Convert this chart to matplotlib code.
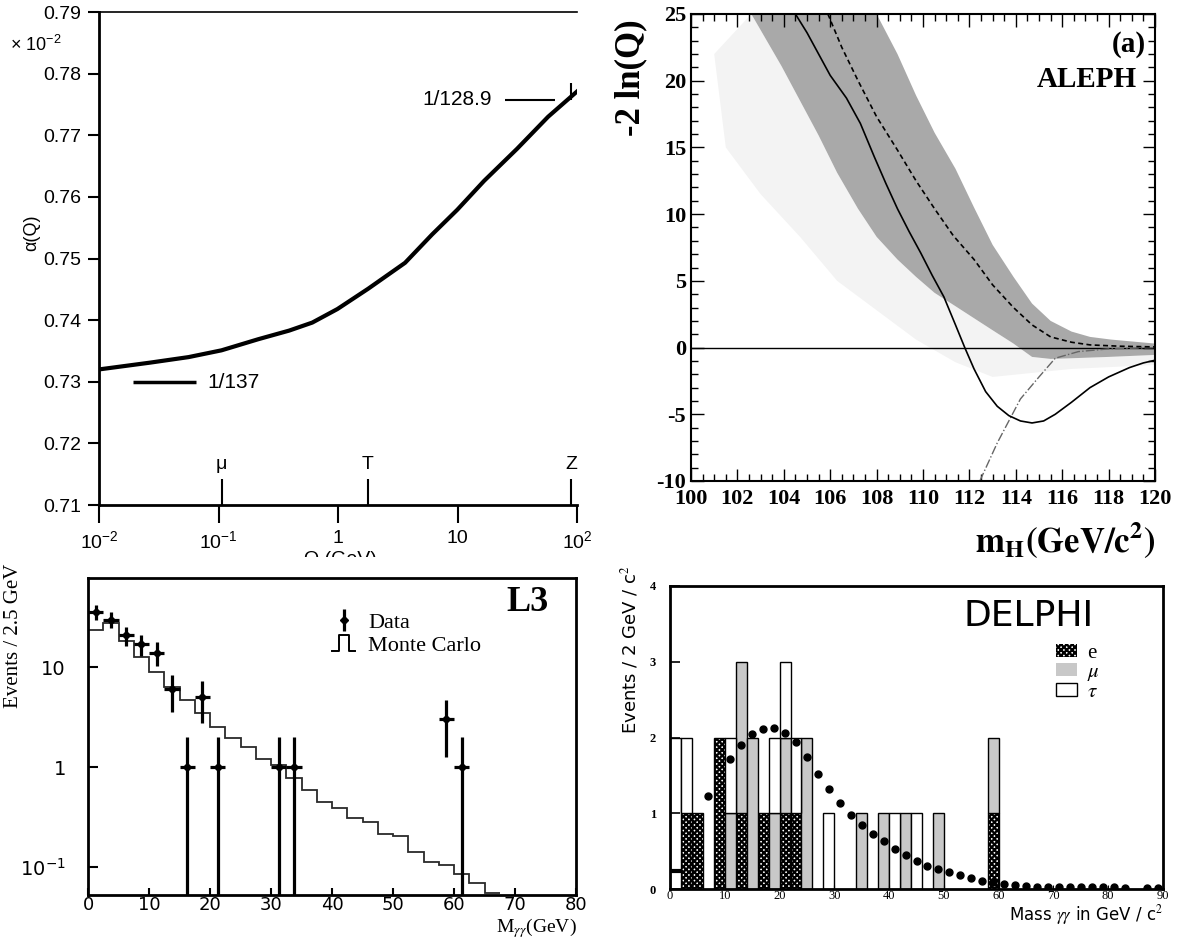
import numpy as np
import matplotlib
matplotlib.use("Agg")
import matplotlib.pyplot as plt
from matplotlib.lines import Line2D
from matplotlib.patches import Patch, Rectangle
from matplotlib.legend_handler import HandlerBase, HandlerErrorbar
from matplotlib.ticker import MultipleLocator, NullLocator

plt.rcParams['mathtext.fontset'] = 'stix'
plt.rcParams['axes.unicode_minus'] = False
plt.rcParams['hatch.linewidth'] = 1.6

NARROW = ['Liberation Sans', 'DejaVu Sans']
SERIF = ['Liberation Serif', 'DejaVu Serif']

# --- panneau 1 : alpha(Q) ---
q_vals = [0.01, 0.0267, 0.0562, 0.106, 0.215, 0.39, 0.609, 0.989, 1.79, 3.64, 6.13, 9.95, 16.7, 31.5, 57.3, 100]
alpha_vals = [0.7320, 0.7331, 0.7340, 0.7351, 0.7369, 0.7383, 0.7396, 0.7418, 0.7451, 0.7493,
              0.7539, 0.7579, 0.7626, 0.7678, 0.7730, 0.7771]
alpha_ticks = [0.71, 0.72, 0.73, 0.74, 0.75, 0.76, 0.77, 0.78, 0.79]
q_ticks = [0.01, 0.1, 1, 10, 100]
q_labels = [r'$\mathregular{10^{-2}}$', r'$\mathregular{10^{-1}}$', '1', '10', r'$\mathregular{10^{2}}$']
particle_q = [0.106, 1.78, 89.6]
particle_names = ['μ', 'T', 'Z']

# --- panneau 2 : ALEPH -2ln(Q) ---
obs_m = [104.5, 105.0, 105.5, 106.0, 106.7, 107.3, 107.9, 108.4, 108.9, 109.4, 109.9, 110.4, 110.9,
         111.4, 111.8, 112.2, 112.7, 113.2, 113.7, 114.2, 114.7, 115.2, 115.7, 116.4, 117.2, 118.0,
         118.9, 119.5, 120.0]
obs_q = [25, 23.6, 22.0, 20.4, 18.7, 16.8, 14.3, 12.3, 10.4, 8.7, 7.1, 5.4, 3.8,
         1.7, 0.0, -1.6, -3.3, -4.4, -5.1, -5.5, -5.65, -5.5, -5.0, -4.1, -3.0, -2.2,
         -1.5, -1.15, -0.95]
sig_m = [105.9, 106.5, 107.2, 108.0, 108.9, 109.7, 110.5, 111.3, 112.2, 113.0, 113.9, 114.7,
         115.5, 116.4, 117.2, 118.5, 120.0]
sig_q = [25, 22.5, 20.0, 17.3, 14.8, 12.5, 10.4, 8.4, 6.6, 4.7, 3.0, 1.7, 0.8, 0.4, 0.2, 0.1, 0.05]
bkg_m = [112.45, 113.2, 114.2, 115.0, 115.7, 116.7, 118.0, 120.0]
bkg_q = [-10, -7.15, -3.85, -2.2, -0.8, -0.3, -0.1, 0.0]
band_hi_m = [108.0, 108.9, 109.7, 110.5, 111.4, 112.2, 113.0, 113.9, 114.7, 115.5, 116.4, 117.2, 118.1, 120.0]
band_hi_q = [25, 22.0, 18.9, 16.1, 13.4, 10.5, 7.7, 5.3, 3.3, 2.0, 1.2, 0.8, 0.6, 0.3]
band_lo_m = [102.6, 103.9, 104.7, 105.5, 106.3, 107.2, 108.0, 108.9, 109.7, 110.5, 111.4, 112.2,
             113.0, 113.9, 114.7, 115.5, 116.4, 118.0, 120.0]
band_lo_q = [25, 21.1, 18.5, 15.9, 13.1, 10.4, 8.3, 6.6, 5.3, 4.1, 3.1, 2.2,
             1.3, 0.3, -0.7, -0.85, -0.8, -0.7, -0.55]
band2_lo_m = [101.0, 101.5, 103.0, 104.7, 106.3, 108.0, 109.7, 111.4, 113.0, 114.7, 116.4, 120.0]
band2_lo_q = [22.0, 15.0, 11.5, 8.3, 5.0, 2.8, 0.6, -1.1, -2.2, -1.9, -1.6, -1.3]

# --- panneau 3 : L3 ---
mc_edges = np.arange(0, 70, 2.5)
mc_vals = [23.7, 27.6, 18.5, 12.8, 9.05, 6.3, 4.7, 3.45, 2.54, 1.97, 1.57, 1.19, 1.05, 0.77,
           0.59, 0.45, 0.39, 0.305, 0.283, 0.213, 0.203, 0.14, 0.112, 0.104, 0.084, 0.068, 0.055]
l3_x = [1.25, 3.75, 6.25, 8.75, 11.25, 13.75, 16.25, 18.75, 21.25, 31.25, 33.75, 58.75, 61.25]
l3_n = [36, 30, 21, 17, 14, 6, 1, 5, 1, 1, 1, 3, 1]
l3_bin = 2.5

# --- panneau 4 : DELPHI ---
e_bins = [2, 4, 8, 12, 16, 20, 22, 58]
e_n = [1, 1, 2, 1, 1, 1, 1, 1]
mu_bins = [10, 12, 14, 18, 20, 24, 34, 38, 42, 48, 58]
mu_n = [1, 2, 2, 1, 1, 2, 1, 1, 1, 1, 1]
tau_bins = [0, 2, 10, 18, 20, 22, 28, 40, 44]
tau_n = [2, 1, 1, 1, 1, 1, 1, 1, 1]
dots_x = [7, 11, 13, 15, 17, 19, 21, 23, 25, 27, 29, 31, 33, 35, 37, 39, 41, 43, 45, 47, 49,
          51, 53, 55, 57, 59, 61, 63, 65, 67, 69, 71, 73, 75, 77, 79, 81, 83, 87, 89]
dots_y = [1.23, 1.71, 1.90, 2.05, 2.11, 2.13, 2.06, 1.94, 1.74, 1.52, 1.32, 1.14, 0.98, 0.84,
          0.72, 0.63, 0.53, 0.45, 0.37, 0.31, 0.26, 0.22, 0.18, 0.14, 0.11, 0.09, 0.07, 0.05,
          0.04, 0.03, 0.03, 0.025, 0.02, 0.025, 0.02, 0.02, 0.02, 0.015, 0.01, 0.01]
first_bin_mc = 0.24
delphi_bin = 2

W, H = 1181, 938


def box(x0, y0, x1, y1):
    return [x0 / W, 1 - y1 / H, (x1 - x0) / W, (y1 - y0) / H]


class StepHandler(HandlerBase):
    def create_artists(self, legend, orig_handle, xdescent, ydescent, width, height, fontsize, trans):
        x0, y0 = -xdescent, -ydescent
        h = 1.0 * height
        xs = [x0, x0 + 0.3 * width, x0 + 0.3 * width, x0 + 0.75 * width, x0 + 0.75 * width, x0 + width]
        ys = [y0, y0, y0 + h, y0 + h, y0, y0]
        return [Line2D(xs, ys, color='black', lw=1.4, transform=trans)]


fig = plt.figure(figsize=(W / 100, H / 100), dpi=100)

# ---------------- panneau 1 ----------------
ax1 = fig.add_axes(box(99, 12, 577, 505))
ax1.plot(q_vals, alpha_vals, color='black', lw=3)
ax1.set_xscale('log')
ax1.set_xlim(0.01, 100)
ax1.set_ylim(0.71, 0.79)
ax1.set_xticks(q_ticks, q_labels, fontfamily=NARROW, fontsize=14)
ax1.xaxis.set_minor_locator(NullLocator())
ax1.set_yticks(alpha_ticks, [f'{v:.2f}' for v in alpha_ticks], fontfamily=NARROW, fontsize=14)
ax1.tick_params(axis='x', direction='out', length=13, width=1.5, pad=5)
ax1.tick_params(axis='y', direction='out', length=8, width=1.5, pad=5)
ax1.spines['right'].set_visible(False)
ax1.spines['left'].set_linewidth(2)
ax1.spines['bottom'].set_linewidth(2)
ax1.spines['top'].set_linewidth(1.2)
ax1.vlines(particle_q, 0.71, 0.7142, color='black', lw=1.5)
for q, name in zip(particle_q, particle_names):
    ax1.text(q, 0.7152, name, ha='center', va='bottom', fontfamily=NARROW, fontsize=14)
ax1.vlines(particle_q[-1], 0.7758, 0.7785, color='black', lw=1.5)
ax1.hlines(0.7299, 0.0191, 0.0653, color='black', lw=2.5)
ax1.text(0.08, 0.7299, '1/137', va='center', fontfamily=NARROW, fontsize=15)
ax1.hlines(0.7758, 25, 66, color='black', lw=1.5)
ax1.text(19.5, 0.7758, '1/128.9', ha='right', va='center', fontfamily=NARROW, fontsize=15)
fig.text(32 / W, 1 - 233 / H, 'α(Q)', rotation=90, ha='center', va='center',
         fontfamily=NARROW, fontsize=13)
fig.text(10 / W, 1 - 45 / H, r'× $\mathregular{10^{-2}}$', ha='left', va='center',
         fontfamily=NARROW, fontsize=13)
fig.text(340 / W, 1 - 551 / H, 'Q (GeV)', ha='center', va='top', fontfamily=NARROW, fontsize=14)
fig.add_artist(Rectangle((250 / W, 1 - 576 / H), 200 / W, 19 / H, transform=fig.transFigure,
                         facecolor='white', edgecolor='none', zorder=10))

# ---------------- panneau 2 : ALEPH ----------------
ax2 = fig.add_axes(box(691, 14, 1155, 481))
ax2.fill(np.r_[band2_lo_m, band_lo_m[::-1]], np.r_[band2_lo_q, band_lo_q[::-1]],
         color='#f3f3f3', lw=0)
ax2.fill(np.r_[band_hi_m, band_lo_m[::-1]], np.r_[band_hi_q, band_lo_q[::-1]],
         color='#a9a9a9', lw=0)
ax2.axhline(0, color='black', lw=1)
ax2.plot(bkg_m, bkg_q, color='#666666', ls='-.', lw=1)
ax2.plot(sig_m, sig_q, color='black', ls='--', dashes=(3, 2), lw=1.2)
ax2.plot(obs_m, obs_q, color='black', lw=1.2)
ax2.set_xlim(100, 120)
ax2.set_ylim(-10, 25)
ax2.set_xticks(np.arange(100, 121, 2), [str(v) for v in range(100, 121, 2)],
               fontfamily=SERIF, fontweight='bold', fontsize=16)
ax2.set_yticks(np.arange(-10, 26, 5), [str(v) for v in range(-10, 26, 5)],
               fontfamily=SERIF, fontweight='bold', fontsize=16)
ax2.xaxis.set_minor_locator(MultipleLocator(0.5))
ax2.yaxis.set_minor_locator(MultipleLocator(1))
ax2.tick_params(which='both', direction='in', top=True, right=True, width=1)
ax2.tick_params(which='major', length=9)
ax2.tick_params(which='minor', length=5)
ax2.tick_params(axis='x', pad=6)
for s in ax2.spines.values():
    s.set_linewidth(1.5)
ax2.text(119.6, 22.7, '(a)', ha='right', va='center', fontfamily=SERIF, fontweight='bold', fontsize=21)
ax2.text(119.2, 20.1, 'ALEPH', ha='right', va='center', fontfamily=SERIF, fontweight='bold', fontsize=21)
fig.text(631 / W, 1 - 78 / H, '-2 ln(Q)', rotation=90, ha='center', va='center',
         fontfamily=SERIF, fontweight='bold', fontsize=25)
fig.text(1156 / W, 1 - 560 / H, r'$\mathbf{m_{H}(GeV/c^{2})}$', ha='right', va='bottom', fontsize=25)

# ---------------- panneau 3 : L3 ----------------
ax3 = fig.add_axes(box(88, 578, 576, 895))
ax3.set_yscale('log')
ax3.stairs(mc_vals, mc_edges, baseline=None, color='#2a2a2a', lw=1.3)
counts = np.array(l3_n, dtype=float)
err = np.sqrt(counts)
lo = np.minimum(err, counts * 0.9999)
eb = ax3.errorbar(l3_x, counts, xerr=l3_bin / 2, yerr=[lo, err], fmt='D', ms=4.5,
                  color='black', elinewidth=2.3, capsize=0)
ax3.set_xlim(0, 80)
ax3.set_ylim(0.052, 78.7)
ax3.set_xticks(np.arange(0, 81, 10), [str(v) for v in range(0, 81, 10)], fontsize=13)
ax3.set_yticks([0.1, 1, 10], [r'$\mathregular{10^{-1}}$', '1', '10'], fontsize=14)
ax3.yaxis.set_minor_locator(NullLocator())
ax3.tick_params(axis='x', direction='in', length=5, width=1.5, pad=1)
ax3.tick_params(axis='y', direction='in', length=7, width=1.5, pad=16)
for s in ax3.spines.values():
    s.set_linewidth(2)
mc_handle = Line2D([], [])
ax3.legend([eb, mc_handle], ['Data', 'Monte Carlo'],
           handler_map={mc_handle: StepHandler(), type(eb): HandlerErrorbar(xerr_size=0.0, yerr_size=0.5)},
           loc='upper left', bbox_to_anchor=(0.46, 0.955), frameon=False,
           prop={'family': SERIF, 'size': 16}, handlelength=1.0, handletextpad=0.6, labelspacing=0.1)
ax3.text(0.9, 0.924, 'L3', transform=ax3.transAxes, ha='center', va='center',
         fontfamily=SERIF, fontweight='bold', fontsize=26)
fig.text(14 / W, 1 - 636 / H, 'Events / 2.5 GeV', rotation=90, ha='center', va='center',
         fontfamily=SERIF, fontsize=15)
fig.text(577 / W, 1 - 916 / H, r'M$_{\gamma\gamma}$(GeV)', ha='right', va='top',
         fontfamily=SERIF, fontsize=14)

# ---------------- panneau 4 : DELPHI ----------------
ax4 = fig.add_axes(box(670, 586, 1163, 889))
left = np.arange(0, 90, delphi_bin)
e_c = np.zeros(len(left))
mu_c = np.zeros(len(left))
tau_c = np.zeros(len(left))
for b, n in zip(e_bins, e_n):
    e_c[b // delphi_bin] = n
for b, n in zip(mu_bins, mu_n):
    mu_c[b // delphi_bin] = n
for b, n in zip(tau_bins, tau_n):
    tau_c[b // delphi_bin] = n

m = e_c > 0
ax4.bar(left[m], e_c[m], width=delphi_bin, align='edge', facecolor='white',
        edgecolor='black', hatch='xxxxxx', lw=1)
m = mu_c > 0
ax4.bar(left[m], mu_c[m], bottom=e_c[m], width=delphi_bin, align='edge',
        facecolor='#c8c8c8', edgecolor='black', lw=1)
m = tau_c > 0
ax4.bar(left[m], tau_c[m], bottom=(e_c + mu_c)[m], width=delphi_bin, align='edge',
        facecolor='white', edgecolor='black', lw=1)
ax4.hlines(first_bin_mc, 0, delphi_bin, color='black', lw=3)
ax4.plot(dots_x, dots_y, 'o', color='black', ms=5, zorder=5)
ax4.set_xlim(0, 90)
ax4.set_ylim(0, 4)
ax4.set_xticks(np.arange(0, 91, 10), [str(v) for v in range(0, 91, 10)],
               fontfamily=SERIF, fontsize=9)
ax4.set_yticks(range(5), [str(v) for v in range(5)], fontfamily=SERIF, fontweight='bold', fontsize=9)
ax4.tick_params(axis='x', direction='in', length=3, pad=1)
ax4.tick_params(axis='y', direction='in', length=7, width=1.2, pad=10)
for s in ax4.spines.values():
    s.set_linewidth(2)
ax4.text(65.4, 3.61, 'DELPHI', ha='center', va='center', fontsize=26)
leg_handles = [Patch(facecolor='white', edgecolor='black', hatch='xxxxxx', lw=0),
               Patch(facecolor='#c8c8c8', edgecolor='none'),
               Patch(facecolor='white', edgecolor='black', lw=1)]
ax4.legend(leg_handles, ['e', r'$\mu$', r'$\tau$'], loc='upper left', bbox_to_anchor=(0.745, 0.87),
           frameon=False, prop={'family': SERIF, 'size': 15}, handlelength=1.0, handleheight=0.55,
           handletextpad=0.5, labelspacing=0.0)
fig.text(630 / W, 1 - 650 / H, r'Events / 2 GeV / c$^2$', rotation=90, ha='center', va='center',
         fontsize=13)
fig.text(1163 / W, 1 - 903 / H, r'Mass $\gamma\gamma$ in GeV / c$^2$', ha='right', va='top',
         fontsize=12)

fig.savefig('out.png', dpi=100, facecolor='white')
